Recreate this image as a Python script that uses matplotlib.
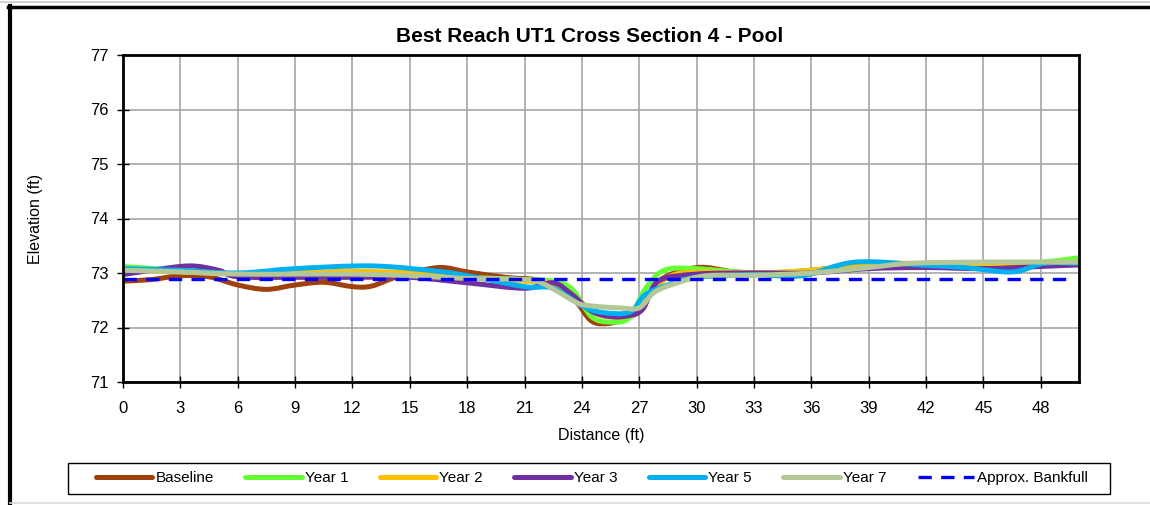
import matplotlib
matplotlib.use("Agg")
import matplotlib.pyplot as plt
from matplotlib.lines import Line2D
from matplotlib.path import Path
from matplotlib.patches import PathPatch, Rectangle

plt.rcParams['font.family'] = ['Liberation Sans', 'DejaVu Sans']

title = "Best Reach UT1 Cross Section 4 - Pool"
x_label = "Distance (ft)"
y_label = "Elevation (ft)"
x_ticks = list(range(0, 49, 3))
y_ticks = [71, 72, 73, 74, 75, 76, 77]

baseline_x = [0, 1.5, 3, 4.5, 6, 7.5, 9, 10.5, 12, 13, 14.5, 16.5, 18, 20, 22, 23.5, 24.5, 25.5, 26.5, 27.2, 28, 30, 32, 34, 36, 39, 42, 45, 48, 50]
baseline_y = [72.85, 72.88, 72.95, 72.93, 72.78, 72.7, 72.78, 72.83, 72.75, 72.76, 72.95, 73.1, 73.02, 72.92, 72.85, 72.55, 72.12, 72.08, 72.2, 72.35, 72.85, 73.1, 73.02, 73.0, 73.05, 73.15, 73.12, 73.12, 73.15, 73.15]

year1_x = [0, 3, 6, 9, 12, 15, 18, 21, 22.5, 23.5, 24.5, 25.5, 26.5, 27.3, 28.3, 30, 33, 36, 39, 42, 45, 48, 50]
year1_y = [73.12, 73.05, 72.98, 72.98, 73.0, 72.98, 72.92, 72.88, 72.85, 72.7, 72.2, 72.1, 72.18, 72.7, 73.05, 73.08, 73.0, 73.05, 73.12, 73.15, 73.18, 73.2, 73.28]

year2_x = [0, 3, 6, 9, 12, 15, 18, 21, 22.5, 24, 25, 26.5, 27.3, 28.5, 30, 33, 36, 39, 42, 45, 48, 50]
year2_y = [73.05, 73.02, 72.98, 73.0, 73.03, 73.0, 72.92, 72.85, 72.8, 72.45, 72.22, 72.22, 72.5, 72.92, 73.02, 73.0, 73.05, 73.18, 73.17, 73.17, 73.18, 73.2]

year3_x = [0, 1.5, 3.5, 5, 6, 9, 12, 15, 18, 21, 22.5, 23.5, 24.5, 25.5, 26.5, 27.2, 28, 30, 33, 36, 39, 42, 45, 48, 50]
year3_y = [72.97, 73.05, 73.13, 73.05, 72.93, 72.92, 72.92, 72.92, 72.82, 72.72, 72.82, 72.6, 72.3, 72.2, 72.22, 72.35, 72.85, 72.98, 73.0, 73.0, 73.08, 73.1, 73.08, 73.12, 73.15]

year5_x = [0, 3, 6, 9, 13, 16.5, 18, 21, 22.5, 24, 25, 26.5, 27.3, 28.5, 30, 33, 35.5, 38.3, 42, 44, 46.5, 48.2, 50]
year5_y = [73.08, 73.05, 73.0, 73.08, 73.13, 73.03, 72.95, 72.75, 72.72, 72.4, 72.28, 72.28, 72.6, 72.78, 72.92, 72.97, 72.95, 73.2, 73.14, 73.1, 73.02, 73.18, 73.18]

year7_x = [0, 3, 6, 9, 12, 15, 18, 21, 22, 23.5, 24, 25, 26, 27, 27.8, 29, 30.5, 33, 36, 39, 41.3, 45, 48, 50]
year7_y = [73.05, 73.02, 72.98, 72.98, 72.98, 72.95, 72.9, 72.88, 72.8, 72.5, 72.42, 72.38, 72.36, 72.36, 72.65, 72.82, 72.95, 72.96, 73.0, 73.1, 73.18, 73.2, 73.2, 73.2]

bankfull_x = [0, 49.8]
bankfull_y = [72.89, 72.89]

series = [
    ("Baseline", baseline_x, baseline_y, "#A0400C"),
    ("Year 1", year1_x, year1_y, "#66FF33"),
    ("Year 2", year2_x, year2_y, "#FFC000"),
    ("Year 3", year3_x, year3_y, "#7030A0"),
    ("Year 5", year5_x, year5_y, "#00B0F0"),
    ("Year 7", year7_x, year7_y, "#B3C797"),
]


def smooth_path(xs, ys, t=1.0):
    """Excel-style smoothed line: cubic Bezier segments through the points."""
    pts = list(zip(xs, ys))
    n = len(pts)
    verts = [pts[0]]
    codes = [Path.MOVETO]
    for i in range(n - 1):
        p0 = pts[i - 1] if i > 0 else pts[i]
        p1 = pts[i]
        p2 = pts[i + 1]
        p3 = pts[i + 2] if i + 2 < n else pts[i + 1]
        c1 = (p1[0] + (p2[0] - p0[0]) * t / 6, p1[1] + (p2[1] - p0[1]) * t / 6)
        c2 = (p2[0] - (p3[0] - p1[0]) * t / 6, p2[1] - (p3[1] - p1[1]) * t / 6)
        verts += [c1, c2, p2]
        codes += [Path.CURVE4] * 3
    return Path(verts, codes)


fig = plt.figure(figsize=(11.5, 5.05), dpi=100)
ax = fig.add_axes([123/1150, 1-382/505, (1079-123)/1150, (382-55)/505])

handles = []
for name, xs, ys, c in series:
    patch = PathPatch(smooth_path(xs, ys), facecolor='none', edgecolor=c, lw=3.6,
                      capstyle='round', joinstyle='round', zorder=3)
    ax.add_patch(patch)
    handles.append(Line2D([], [], color=c, lw=3.6, solid_capstyle='round', label=name))
hb, = ax.plot(bankfull_x, bankfull_y, color="#0000FF", lw=2.4, linestyle=(0, (4, 2.8)),
              label="Approx. Bankfull", zorder=4)
handles.append(hb)

ax.set_xlim(0, 50)
ax.set_ylim(71, 77)
ax.set_xticks(x_ticks)
ax.set_yticks(y_ticks)
ax.grid(True, color="#A6A6A6", lw=1.2)
ax.set_axisbelow(True)
for s in ax.spines.values():
    s.set_linewidth(2)
    s.set_color("black")
    s.set_zorder(5)
ax.tick_params(direction='inout', length=8, width=1, labelsize=12, colors='black')
ax.tick_params(axis='x', pad=10)
ax.tick_params(axis='y', pad=6)
ax.set_xlabel(x_label, fontsize=11.5, labelpad=8)
ax.set_ylabel(y_label, fontsize=11.5, labelpad=34)

fig.text(590/1150, 1-36/505, title, ha='center', va='center', fontsize=15, fontweight='bold')

leg = fig.legend(handles=handles, loc='center', bbox_to_anchor=(592/1150, 1-478/505), ncol=7,
                 fontsize=11, frameon=False, handlelength=3.7, columnspacing=2.05,
                 handletextpad=0.2, borderpad=0.45, borderaxespad=0)
fig.add_artist(Rectangle((68/1150, 1-494/505), (1110-68)/1150, 31/505, transform=fig.transFigure,
                         facecolor='none', edgecolor='black', lw=1.0))

# figure frame lines
fig.add_artist(Line2D([10/1150, 10/1150], [0, 1-6/505], transform=fig.transFigure, color='black', lw=3))
fig.add_artist(Line2D([8/1150, 1], [1-7/505, 1-7/505], transform=fig.transFigure, color='black', lw=2.5))
fig.add_artist(Line2D([0, 1], [1-2/505, 1-2/505], transform=fig.transFigure, color='#C8C8C8', lw=1.2))
fig.add_artist(Line2D([10/1150, 1], [2/505, 2/505], transform=fig.transFigure, color='#D9D9D9', lw=1.2))

fig.savefig("out.png", dpi=100)
